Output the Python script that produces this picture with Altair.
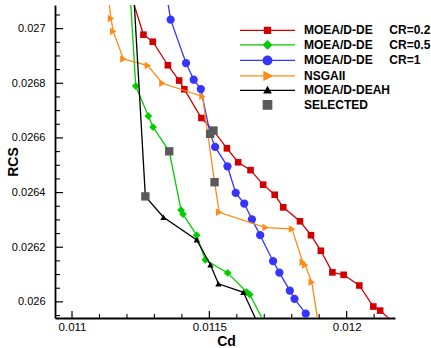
import altair as alt
import pandas as pd

NB = "\u00a0"
series = [
    "MOEA/D-DE" + NB * 5 + "CR=0.2",
    "MOEA/D-DE" + NB * 5 + "CR=0.5",
    "MOEA/D-DE" + NB * 5 + "CR=1",
    "NSGAII",
    "MOEA/D-DEAH",
    "SELECTED",
]
colors = ["#d10000", "#00cc00", "#3535ff", "#ff8a16", "#000000", "#5a5a5a"]
shapes = ["square", "diamond", "circle", "triangle-right", "triangle-up", "square"]
marker_sizes = [44, 60, 68, 55, 40, 70]
has_line = [True, True, True, True, True, False]
legend_paths = [
    "M-5.5,0H5.5M-0.6,-0.6H0.6V0.6H-0.6Z",
    "M-5.5,0H5.5M0,-0.8L0.8,0L0,0.8L-0.8,0Z",
    "M-5.5,0H5.5M0.86,0A0.86,0.86,0,1,1,-0.86,0A0.86,0.86,0,1,1,0.86,0Z",
    "M-5.5,0H5.5M-0.7,-0.8L0.9,0L-0.7,0.8Z",
    "M-5.5,0H5.5M-0.65,0.5L0.65,0.5L0,-0.65Z",
    "M-0.84,-0.84H0.84V0.84H-0.84Z",
]

red_cd = [0.011216, 0.011260, 0.011294, 0.011349, 0.011390, 0.011409, 0.011471, 0.011515,
          0.011564, 0.011605, 0.011650, 0.011696, 0.011738, 0.011769, 0.011830, 0.011870,
          0.011906, 0.011948, 0.011989, 0.012046, 0.012097, 0.012122, 0.012197]
red_rcs = [0.02712, 0.026978, 0.026952, 0.026866, 0.026810, 0.026778, 0.026673, 0.026627,
           0.026562, 0.026511, 0.026482, 0.026429, 0.026392, 0.026346, 0.026295, 0.026244,
           0.026187, 0.026108, 0.026099, 0.026060, 0.025983, 0.025968, 0.0259]
green_cd = [0.011212, 0.011232, 0.011278, 0.011295, 0.011354, 0.011397, 0.011404, 0.011454,
            0.011485, 0.011567, 0.011636, 0.011647, 0.011713]
green_rcs = [0.02712, 0.026790, 0.026680, 0.026640, 0.026551, 0.026336, 0.026321, 0.026244,
             0.026154, 0.026106, 0.026036, 0.026027, 0.0259]
blue_cd = [0.011345, 0.011359, 0.011415, 0.011443, 0.011469, 0.011503, 0.011521, 0.011566,
           0.011596, 0.011627, 0.011655, 0.011685, 0.011732, 0.011755, 0.011793, 0.011810,
           0.011851]
blue_rcs = [0.02712, 0.027033, 0.026874, 0.026813, 0.026779, 0.026615, 0.026567, 0.026496,
            0.026399, 0.026360, 0.026302, 0.026244, 0.026149, 0.026107, 0.026041, 0.026011,
            0.025957]
orange_cd = [0.011131, 0.011142, 0.011150, 0.011187, 0.011276, 0.011329, 0.011475, 0.011519,
             0.011536, 0.011705, 0.011801, 0.011840, 0.011849, 0.011873, 0.011900]
orange_rcs = [0.02712, 0.027037, 0.026990, 0.026889, 0.026865, 0.026800, 0.026752, 0.026438,
              0.026328, 0.026272, 0.026267, 0.026145, 0.026135, 0.026072, 0.0259]
black_cd = [0.011225, 0.011267, 0.011333, 0.011454, 0.011504, 0.011533, 0.011624, 0.011686]
black_rcs = [0.02712, 0.026386, 0.026310, 0.026227, 0.026136, 0.026066, 0.026035, 0.0259]
sel_cd = [0.011515, 0.011503, 0.011354, 0.011519, 0.011267]
sel_rcs = [0.026627, 0.026615, 0.026551, 0.026438, 0.026386]

x_major = [0.011, 0.0115, 0.012]
x_minor = [0.0111, 0.0112, 0.0113, 0.0114, 0.0116, 0.0117, 0.0118, 0.0119, 0.0121]
y_major = [0.026, 0.0262, 0.0264, 0.0266, 0.0268, 0.027]
y_minor = [0.02595, 0.02605, 0.0261, 0.02615, 0.02625, 0.0263, 0.02635, 0.02645, 0.0265,
           0.02655, 0.02665, 0.0267, 0.02675, 0.02685, 0.0269, 0.02695, 0.02705]

x_domain = [0.010938, 0.012176]
y_domain = [0.025941, 0.0270865]

W, H = 340, 313
FONT = "Liberation Sans"

cd_lists = [red_cd, green_cd, blue_cd, orange_cd, black_cd, sel_cd]
rcs_lists = [red_rcs, green_rcs, blue_rcs, orange_rcs, black_rcs, sel_rcs]

rows = []
for name, cds, rcss in zip(series, cd_lists, rcs_lists):
    for i, (c, r) in enumerate(zip(cds, rcss)):
        rows.append({"series": name, "Cd": c, "RCS": r, "idx": i})
df = pd.DataFrame(rows)

xscale = alt.Scale(domain=x_domain, nice=False, zero=False)
yscale = alt.Scale(domain=y_domain, nice=False, zero=False)

xaxis = alt.Axis(
    values=x_major, format="~g", ticks=False, tickSize=0, grid=False,
    domainColor="black", domainWidth=1.8, labelFontSize=11.5, labelPadding=3,
    labelColor="black", labelFont=FONT, labelFlush=False, labelOverlap=False,
    title="Cd", titleFont=FONT, titleFontSize=14, titleFontWeight="bold",
    titleColor="black", titleX=171, titleY=27, titleAlign="center",
    titleBaseline="alphabetic",
)
yaxis = alt.Axis(
    values=y_major, format="~g", ticks=False, tickSize=0, grid=False,
    domainColor="black", domainWidth=1.8, labelFontSize=11, labelPadding=10,
    labelColor="black", labelFont=FONT, labelFlush=False, labelOverlap=False,
    title="RCS", titleFont=FONT, titleFontSize=14, titleFontWeight="bold",
    titleColor="black", titleAngle=270, titleX=-42, titleY=156.5,
    titleAlign="center", titleBaseline="middle",
)


def X(field):
    return alt.X(field, scale=xscale, axis=xaxis, title="Cd")


def Y(field):
    return alt.Y(field, scale=yscale, axis=yaxis, title="RCS")


layers = []

# inward tick marks
ymaj = alt.Chart(pd.DataFrame({"v": y_major})).mark_rule(color="black", strokeWidth=1.2).encode(
    y=Y("v:Q"), x=alt.value(0), x2=alt.value(8))
ymin = alt.Chart(pd.DataFrame({"v": y_minor})).mark_rule(color="black", strokeWidth=1.1).encode(
    y=Y("v:Q"), x=alt.value(0), x2=alt.value(5))
xmaj = alt.Chart(pd.DataFrame({"v": x_major})).mark_rule(color="black", strokeWidth=1.2).encode(
    x=X("v:Q"), y=alt.value(H), y2=alt.value(H - 7))
xmin = alt.Chart(pd.DataFrame({"v": x_minor})).mark_rule(color="black", strokeWidth=1.1).encode(
    x=X("v:Q"), y=alt.value(H), y2=alt.value(H - 4))
layers += [ymaj, ymin, xmaj, xmin]

for name, col, shp, sz, ln in zip(series, colors, shapes, marker_sizes, has_line):
    sub = df[df["series"] == name]
    if ln:
        layers.append(
            alt.Chart(sub).mark_line(clip=True, color=col, strokeWidth=1.3).encode(
                x=X("Cd:Q"), y=Y("RCS:Q"), order="idx:Q",
            )
        )
    layers.append(
        alt.Chart(sub).mark_point(clip=True, filled=True, opacity=1, color=col, shape=shp,
                                  size=sz, strokeWidth=0).encode(
            x=X("Cd:Q"), y=Y("RCS:Q"),
        )
    )

leg = alt.Legend(
    title=None, orient="none", legendX=206.5, legendY=19.4, symbolSize=100,
    symbolStrokeWidth=1.3, labelFont=FONT, labelFontSize=12, labelFontWeight="bold",
    labelColor="black", labelOffset=30.5, rowPadding=1.5, padding=0, labelLimit=300,
    labelBaseline="middle",
)
legend_layer = alt.Chart(df).transform_filter("false").mark_point(
    filled=True, opacity=1, size=100
).encode(
    color=alt.Color("series:N", scale=alt.Scale(domain=series, range=colors), legend=leg),
    stroke=alt.Stroke("series:N", scale=alt.Scale(domain=series, range=colors), legend=leg),
    shape=alt.Shape("series:N", scale=alt.Scale(domain=series, range=legend_paths), legend=leg),
)
layers.append(legend_layer)

chart = alt.layer(*layers).properties(
    width=W, height=H,
    autosize=alt.AutoSizeParams(type="none"),
    padding={"left": 55, "top": 5, "right": 36, "bottom": 30},
    background="white",
).configure_view(strokeWidth=0)

chart.save("out.html", embed_options={"renderer": "svg", "actions": False})
